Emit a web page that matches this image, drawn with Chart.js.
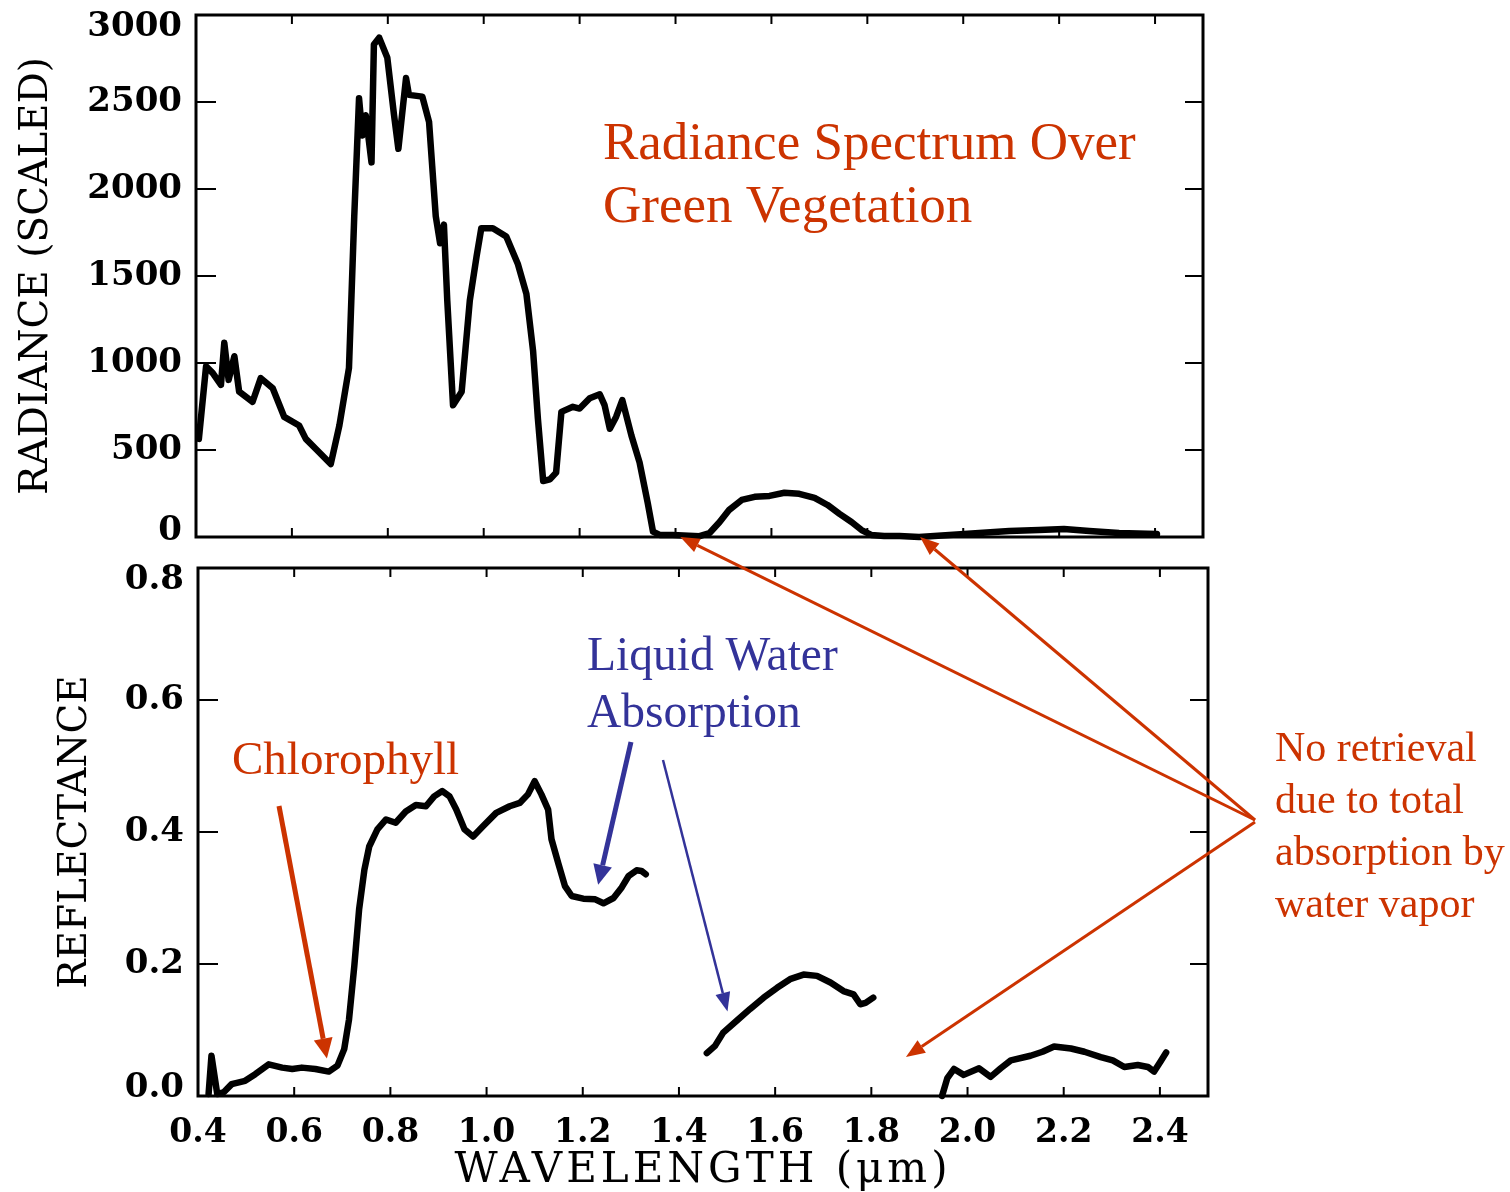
<!DOCTYPE html>
<html>
<head>
<meta charset="utf-8">
<title>Radiance and reflectance spectra of green vegetation</title>
<script src="https://cdn.jsdelivr.net/npm/chart.js@4.4.0/dist/chart.umd.min.js"></script>
<style>
  body { margin: 0; background: #fff; }
  #wrap { position: relative; width: 1510px; height: 1192px; }
  #wrap canvas { position: absolute; left: 0; top: 0; }
</style>
</head>
<body>
<div id="wrap">
  <canvas id="radiance" width="1510" height="560"></canvas>
  <canvas id="reflectance" width="1510" height="1192"></canvas>
</div>
<script>
// wavelength (um) and scaled radiance of the vegetation pixel
const radWl = [
  0.406, 0.421, 0.435, 0.452, 0.459, 0.468, 0.480, 0.490, 0.518, 0.535,
  0.560, 0.584, 0.615, 0.629, 0.650, 0.681, 0.699, 0.719, 0.730, 0.740,
  0.747, 0.754, 0.766, 0.771, 0.782, 0.799, 0.813, 0.822, 0.838, 0.844,
  0.872, 0.886, 0.900, 0.909, 0.917, 0.924, 0.936, 0.954, 0.971, 0.985,
  0.995, 1.019, 1.047, 1.071, 1.089, 1.103, 1.113, 1.124, 1.138, 1.151,
  1.162, 1.186, 1.200, 1.221, 1.242, 1.252, 1.263, 1.276, 1.289, 1.308,
  1.325, 1.342, 1.353, 1.367, 1.394, 1.450, 1.471, 1.492, 1.512, 1.538,
  1.565, 1.596, 1.627, 1.658, 1.690, 1.717, 1.742, 1.767, 1.788, 1.808,
  1.835, 1.867, 1.908, 1.971, 2.033, 2.096, 2.158, 2.210, 2.263, 2.325,
  2.404
];
const radVal = [
  564, 981, 942, 874, 1116, 903, 1039, 835, 777, 913,
  855, 690, 641, 564, 506, 419, 641, 971, 1843, 2522,
  2308, 2424, 2153, 2831, 2870, 2754, 2424, 2231, 2638, 2541,
  2531, 2386, 1843, 1688, 1795, 1359, 757, 835, 1359, 1610,
  1775, 1775, 1727, 1571, 1397, 1068, 680, 322, 331, 370,
  719, 748, 738, 797, 820, 758, 622, 690, 787, 583,
  429, 196, 31, 12, 12, 5, 23, 86, 156, 213,
  231, 236, 254, 248, 225, 184, 133, 86, 40, 12,
  6, 6, 0, 12, 23, 35, 40, 46, 35, 23,
  17
];

// retrieved reflectance; null marks the water vapour bands with no retrieval
const reflWl = [
  0.422, 0.428, 0.440, 0.454, 0.470, 0.498, 0.519, 0.547, 0.575, 0.596,
  0.616, 0.644, 0.672, 0.690, 0.704, 0.714, 0.725, 0.735, 0.746, 0.756,
  0.773, 0.791, 0.811, 0.832, 0.853, 0.874, 0.891, 0.908, 0.923, 0.937,
  0.954, 0.972, 0.993, 1.020, 1.048, 1.069, 1.086, 1.100, 1.114, 1.128,
  1.135, 1.149, 1.163, 1.177, 1.201, 1.226, 1.243, 1.264, 1.281, 1.295,
  1.312, 1.322, 1.331,
  1.400,
  1.458, 1.475, 1.492, 1.520, 1.548, 1.576, 1.604, 1.631, 1.659, 1.687,
  1.715, 1.742, 1.763, 1.777, 1.788, 1.804,
  1.870,
  1.947, 1.958, 1.972, 1.992, 2.024, 2.048, 2.069, 2.090, 2.131, 2.156,
  2.180, 2.215, 2.243, 2.277, 2.302, 2.326, 2.354, 2.375, 2.388, 2.401,
  2.413
];
const reflVal = [
  0.003, 0.061, 0.003, 0.006, 0.018, 0.023, 0.033, 0.048, 0.043, 0.041,
  0.043, 0.041, 0.037, 0.046, 0.071, 0.116, 0.197, 0.283, 0.343, 0.378,
  0.404, 0.419, 0.414, 0.431, 0.441, 0.439, 0.454, 0.462, 0.454, 0.434,
  0.404, 0.393, 0.409, 0.429, 0.439, 0.444, 0.457, 0.477, 0.457, 0.434,
  0.389, 0.353, 0.318, 0.303, 0.299, 0.298, 0.292, 0.300, 0.316, 0.333,
  0.342, 0.341, 0.336,
  null,
  0.065, 0.076, 0.096, 0.114, 0.132, 0.149, 0.164, 0.177, 0.184, 0.182,
  0.172, 0.159, 0.154, 0.139, 0.141, 0.149,
  null,
  0.000, 0.027, 0.041, 0.032, 0.042, 0.029, 0.042, 0.054, 0.061, 0.067,
  0.075, 0.072, 0.067, 0.059, 0.054, 0.044, 0.047, 0.044, 0.037, 0.052,
  0.066
];

const wlTicks = [0.4, 0.6, 0.8, 1.0, 1.2, 1.4, 1.6, 1.8, 2.0, 2.2, 2.4];
const radTicks = [0, 500, 1000, 1500, 2000, 2500, 3000];
const reflTicks = [0, 0.2, 0.4, 0.6, 0.8];

const RED = '#cc3300';
const BLUE = '#333399';
const axisFace = '"DejaVu Serif", serif';
const noteFace = '"Liberation Serif", "Times New Roman", serif';

const points = (xs, ys) => xs.map((x, i) => ({ x: x, y: ys[i] }));

// box round the plot area with short ticks pointing inwards on all four sides
const frame = {
  id: 'frame',
  afterDraw(chart, args, opts) {
    const { ctx, chartArea: a, scales: { x, y } } = chart;
    ctx.save();
    ctx.strokeStyle = '#000';
    ctx.lineWidth = 3;
    ctx.strokeRect(a.left, a.top, a.right - a.left, a.bottom - a.top);
    ctx.lineWidth = 2;
    ctx.beginPath();
    wlTicks.forEach(v => {
      const px = x.getPixelForValue(v);
      if (px < a.left + 2) return;
      ctx.moveTo(px, a.bottom); ctx.lineTo(px, a.bottom - 9);
      ctx.moveTo(px, a.top); ctx.lineTo(px, a.top + 9);
    });
    opts.yTicks.forEach(v => {
      const py = y.getPixelForValue(v);
      if (py < a.top + 2 || py > a.bottom - 2) return;
      ctx.moveTo(a.left, py); ctx.lineTo(a.left + 20, py);
      ctx.moveTo(a.right, py); ctx.lineTo(a.right - 18, py);
    });
    ctx.stroke();
    ctx.restore();
  }
};

// pull the lowest and highest y labels a little inside the box
const endLabels = {
  id: 'endLabels',
  beforeDraw(chart, args, opts) {
    const items = chart.scales.y.getLabelItems();
    if (items._nudged || !items.length) return;
    items[0].options.translation[1] -= opts.low;
    items[items.length - 1].options.translation[1] += opts.high;
    items._nudged = true;
  }
};

// the wavelength title is set with wide letter spacing
const spacedTitle = {
  id: 'spacedTitle',
  beforeDraw(chart, args, opts) {
    const sx = chart.scales.x;
    if (sx._spaced) return;
    const plain = sx.drawTitle.bind(sx);
    sx.drawTitle = function () {
      this.ctx.save();
      this.ctx.letterSpacing = opts.spacing + 'px';
      plain();
      this.ctx.restore();
    };
    sx._spaced = true;
  }
};

const lineStyle = {
  borderColor: '#000',
  borderWidth: 6.5,
  pointRadius: 0,
  tension: 0,
  borderJoinStyle: 'round',
  borderCapStyle: 'round',
  spanGaps: false,
  clip: false
};

const radianceChart = new Chart(document.getElementById('radiance'), {
  type: 'line',
  data: { datasets: [Object.assign({ data: points(radWl, radVal) }, lineStyle)] },
  options: {
    responsive: false,
    animation: false,
    events: [],
    layout: { padding: { left: 0, right: 307, top: 15, bottom: 23 } },
    plugins: {
      legend: { display: false }, tooltip: { enabled: false },
      frame: { yTicks: radTicks }, endLabels: { low: 6, high: 12 }
    },
    scales: {
      x: { type: 'linear', min: 0.4, max: 2.5, display: false },
      y: {
        type: 'linear', min: 0, max: 3000,
        afterBuildTicks: s => { s.ticks = radTicks.map(v => ({ value: v })); },
        afterFit: s => { s.width = 196; s.paddingTop = 0; s.paddingBottom = 0; },
        grid: { display: false, drawTicks: false },
        border: { display: false },
        ticks: {
          padding: 14, color: '#000',
          font: { family: axisFace, size: 34, weight: 'bold' },
          callback: v => String(v)
        },
        title: {
          display: true, text: 'RADIANCE (SCALED)', color: '#000',
          font: { family: axisFace, size: 39 }, padding: { top: 13, bottom: 0 }
        }
      }
    }
  },
  plugins: [frame, endLabels]
});

function arrow(ctx, x0, y0, x1, y1, color, width, headLen, headW) {
  const ang = Math.atan2(y1 - y0, x1 - x0);
  const c = Math.cos(ang), s = Math.sin(ang);
  const bx = x1 - headLen * c, by = y1 - headLen * s;
  ctx.strokeStyle = color;
  ctx.fillStyle = color;
  ctx.lineWidth = width;
  ctx.beginPath();
  ctx.moveTo(x0, y0);
  ctx.lineTo(bx, by);
  ctx.stroke();
  ctx.beginPath();
  ctx.moveTo(x1, y1);
  ctx.lineTo(bx + headW / 2 * s, by - headW / 2 * c);
  ctx.lineTo(bx - headW / 2 * s, by + headW / 2 * c);
  ctx.closePath();
  ctx.fill();
}

function textLines(ctx, lines, x, y, step, size, color) {
  ctx.font = size + 'px ' + noteFace;
  ctx.fillStyle = color;
  ctx.textAlign = 'left';
  ctx.textBaseline = 'alphabetic';
  lines.forEach((t, i) => ctx.fillText(t, x, y + i * step));
}

// labels and pointers; arrow tips are given in data units of either panel
const notes = {
  id: 'notes',
  afterDraw(chart) {
    const ctx = chart.ctx;
    const tx = radianceChart.scales.x, ty = radianceChart.scales.y;
    const bx = chart.scales.x, by = chart.scales.y;
    ctx.save();

    textLines(ctx, ['Radiance Spectrum Over', 'Green Vegetation'], 603, 159, 63, 53, RED);
    textLines(ctx, ['Liquid Water', 'Absorption'], 587, 670, 57, 47.5, BLUE);
    textLines(ctx, ['Chlorophyll'], 232, 774, 0, 47, RED);
    textLines(ctx, ['No retrieval', 'due to total', 'absorption by', 'water vapor'], 1275, 761, 52, 42, RED);

    arrow(ctx, 279, 806, bx.getPixelForValue(0.668), by.getPixelForValue(0.057), RED, 5, 20, 19);
    arrow(ctx, 631, 742, bx.getPixelForValue(1.232), by.getPixelForValue(0.320), BLUE, 5, 20, 19);
    arrow(ctx, 663, 760, bx.getPixelForValue(1.501), by.getPixelForValue(0.128), BLUE, 2.5, 19, 15);

    arrow(ctx, 1255, 820, tx.getPixelForValue(1.41), ty.getPixelForValue(0), RED, 3, 19, 15);
    arrow(ctx, 1255, 820, tx.getPixelForValue(1.91), ty.getPixelForValue(0), RED, 3, 19, 15);
    arrow(ctx, 1255, 822, bx.getPixelForValue(1.872), by.getPixelForValue(0.059), RED, 3, 19, 15);

    ctx.restore();
  }
};

new Chart(document.getElementById('reflectance'), {
  type: 'line',
  data: { datasets: [Object.assign({ data: points(reflWl, reflVal) }, lineStyle)] },
  options: {
    responsive: false,
    animation: false,
    events: [],
    layout: { padding: { left: 0, right: 302, top: 568, bottom: 0 } },
    plugins: {
      legend: { display: false }, tooltip: { enabled: false },
      frame: { yTicks: reflTicks }, spacedTitle: { spacing: 4 },
      endLabels: { low: 8, high: 12 }
    },
    scales: {
      x: {
        type: 'linear', min: 0.4, max: 2.5,
        afterBuildTicks: s => { s.ticks = wlTicks.map(v => ({ value: v })); },
        afterFit: s => { s.height = 96; s.paddingLeft = 0; s.paddingRight = 0; },
        grid: { display: false, drawTicks: false },
        border: { display: false },
        ticks: {
          padding: 18, color: '#000', maxRotation: 0, autoSkip: false,
          font: { family: axisFace, size: 33, weight: 'bold' },
          callback: v => v.toFixed(1)
        },
        title: {
          display: true, text: 'WAVELENGTH (\u03bcm)', color: '#000',
          font: { family: axisFace, size: 42, lineHeight: 1 }, padding: { top: 0, bottom: 0 }
        }
      },
      y: {
        type: 'linear', min: 0, max: 0.8,
        afterBuildTicks: s => { s.ticks = reflTicks.map(v => ({ value: v })); },
        afterFit: s => { s.width = 198; s.paddingTop = 0; s.paddingBottom = 0; },
        grid: { display: false, drawTicks: false },
        border: { display: false },
        ticks: {
          padding: 14, color: '#000',
          font: { family: axisFace, size: 34, weight: 'bold' },
          callback: v => v.toFixed(1)
        },
        title: {
          display: true, text: 'REFLECTANCE', color: '#000',
          font: { family: axisFace, size: 39 }, padding: { top: 52, bottom: 0 }
        }
      }
    }
  },
  plugins: [frame, endLabels, spacedTitle, notes]
});
</script>
</body>
</html>
